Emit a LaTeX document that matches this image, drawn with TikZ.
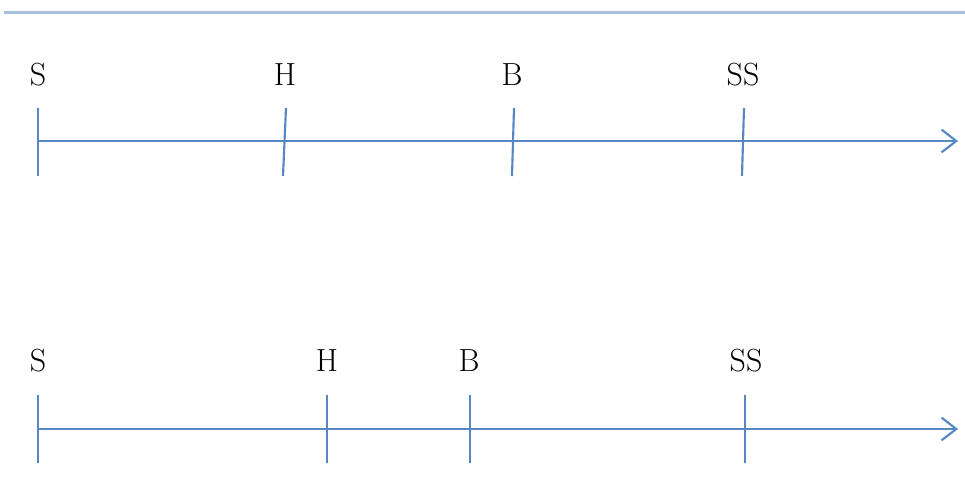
\documentclass[tikz,border=0pt]{standalone}
\usetikzlibrary{arrows.meta}
\definecolor{axisblue}{RGB}{86,134,196}
\definecolor{rulerblue}{RGB}{167,192,222}
\begin{document}
\begin{tikzpicture}[x=0.75pt,y=-0.75pt,
  axisline/.style={draw=axisblue,line width=1.6pt,-{Straight Barb[length=11pt,width=17pt,line width=1.6pt]}},
  tickline/.style={draw=axisblue,line width=1.6pt},
  lbl/.style={font=\fontsize{24}{28}\selectfont,inner sep=0pt,anchor=base}]
\useasboundingbox (0,0) rectangle (965,495);
\draw[rulerblue,line width=2pt] (4,12.5) -- (965,12.5);
% top axis
\coordinate (a1s) at (38,141);
\coordinate (a1e) at (958,141);
\draw[axisline] (a1s) -- (a1e);
\coordinate (t1a) at (38,108); \coordinate (t1b) at (38,176);
\coordinate (t2a) at (286,108); \coordinate (t2b) at (283,176);
\coordinate (t3a) at (514,108); \coordinate (t3b) at (512,176);
\coordinate (t4a) at (744,108); \coordinate (t4b) at (742,176);
\draw[tickline] (t1a) -- (t1b);
\draw[tickline] (t2a) -- (t2b);
\draw[tickline] (t3a) -- (t3b);
\draw[tickline] (t4a) -- (t4b);
\node[lbl] (l1) at (38,86) {S};
\node[lbl] (l2) at (285,86) {H};
\node[lbl] (l3) at (512,86) {B};
\node[lbl] (l4) at (743,86) {SS};
% bottom axis
\coordinate (a2s) at (38,429);
\coordinate (a2e) at (958,429);
\draw[axisline] (a2s) -- (a2e);
\coordinate (u1a) at (38,395); \coordinate (u1b) at (38,463);
\coordinate (u2a) at (327,395); \coordinate (u2b) at (327,463);
\coordinate (u3a) at (470,395); \coordinate (u3b) at (470,463);
\coordinate (u4a) at (745,395); \coordinate (u4b) at (745,463);
\draw[tickline] (u1a) -- (u1b);
\draw[tickline] (u2a) -- (u2b);
\draw[tickline] (u3a) -- (u3b);
\draw[tickline] (u4a) -- (u4b);
\node[lbl] (m1) at (38,372) {S};
\node[lbl] (m2) at (327,372) {H};
\node[lbl] (m3) at (469,372) {B};
\node[lbl] (m4) at (746,372) {SS};
\end{tikzpicture}
\end{document}
